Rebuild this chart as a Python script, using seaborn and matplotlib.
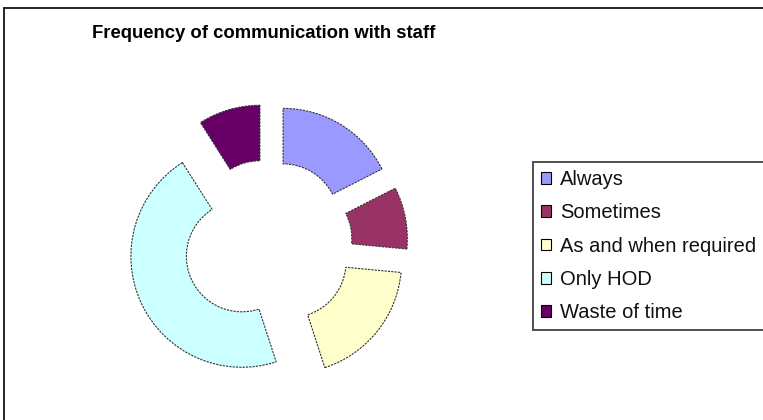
import matplotlib
matplotlib.use("Agg")
import matplotlib.pyplot as plt
import seaborn as sns
from matplotlib.patches import Patch
from matplotlib.lines import Line2D

# data (share of responses, %)
categories = ["Always", "Sometimes", "As and when required", "Only HOD", "Waste of time"]
shares = [17.5, 9, 18.5, 46, 9]
colors = ["#9999FF", "#993366", "#FFFFCC", "#CCFFFF", "#660066"]

sns.set_theme(style="white")
plt.rcParams['font.family'] = ['Liberation Sans', 'DejaVu Sans']

W, H = 763, 420
fig = plt.figure(figsize=(W / 100, H / 100), dpi=100)
fig.patch.set_facecolor("white")

# donut axes: centre at (268, 244) px, radius ~111 px
cx, cy, half = 268, 244, 150
ax = fig.add_axes([(cx - half) / W, (H - cy - half) / H, 2 * half / W, 2 * half / H])
wedges, _ = ax.pie(shares, colors=colors, startangle=90, counterclock=False,
                   explode=[0.26] * len(shares), radius=1.0,
                   wedgeprops=dict(width=0.5, edgecolor="#333333", linewidth=0.8,
                                   linestyle=(0, (2, 1))))
lim = half / 111
ax.set_xlim(-lim, lim)
ax.set_ylim(-lim, lim)
ax.set_aspect("equal")
ax.axis("off")

fig.text(264 / W, 1 - 33 / H, "Frequency of communication with staff",
         ha="center", va="center", fontsize=13.3, fontweight="bold", color="black")

handles = [Patch(facecolor=c, edgecolor="black", linewidth=0.8) for c in colors]
leg = fig.legend(handles, categories, loc="upper left",
                 bbox_to_anchor=(533 / W, 1 - 162 / H), fontsize=14.5,
                 frameon=True, fancybox=False, shadow=False, edgecolor="#222222",
                 handlelength=0.5, handleheight=0.5, handletextpad=0.45,
                 labelspacing=0.71, borderpad=0.4, borderaxespad=0,
                 labelcolor="#111111")
leg.get_frame().set_linewidth(1.4)

# outer chart-area frame (only left and top edges visible)
fig.add_artist(Line2D([4 / W, 4 / W], [0, 1 - 8 / H], color="black", linewidth=1.2,
                      transform=fig.transFigure))
fig.add_artist(Line2D([4 / W, 1], [1 - 8 / H, 1 - 8 / H], color="black", linewidth=1.2,
                      transform=fig.transFigure))

fig.savefig("out.png", dpi=100, facecolor="white")
